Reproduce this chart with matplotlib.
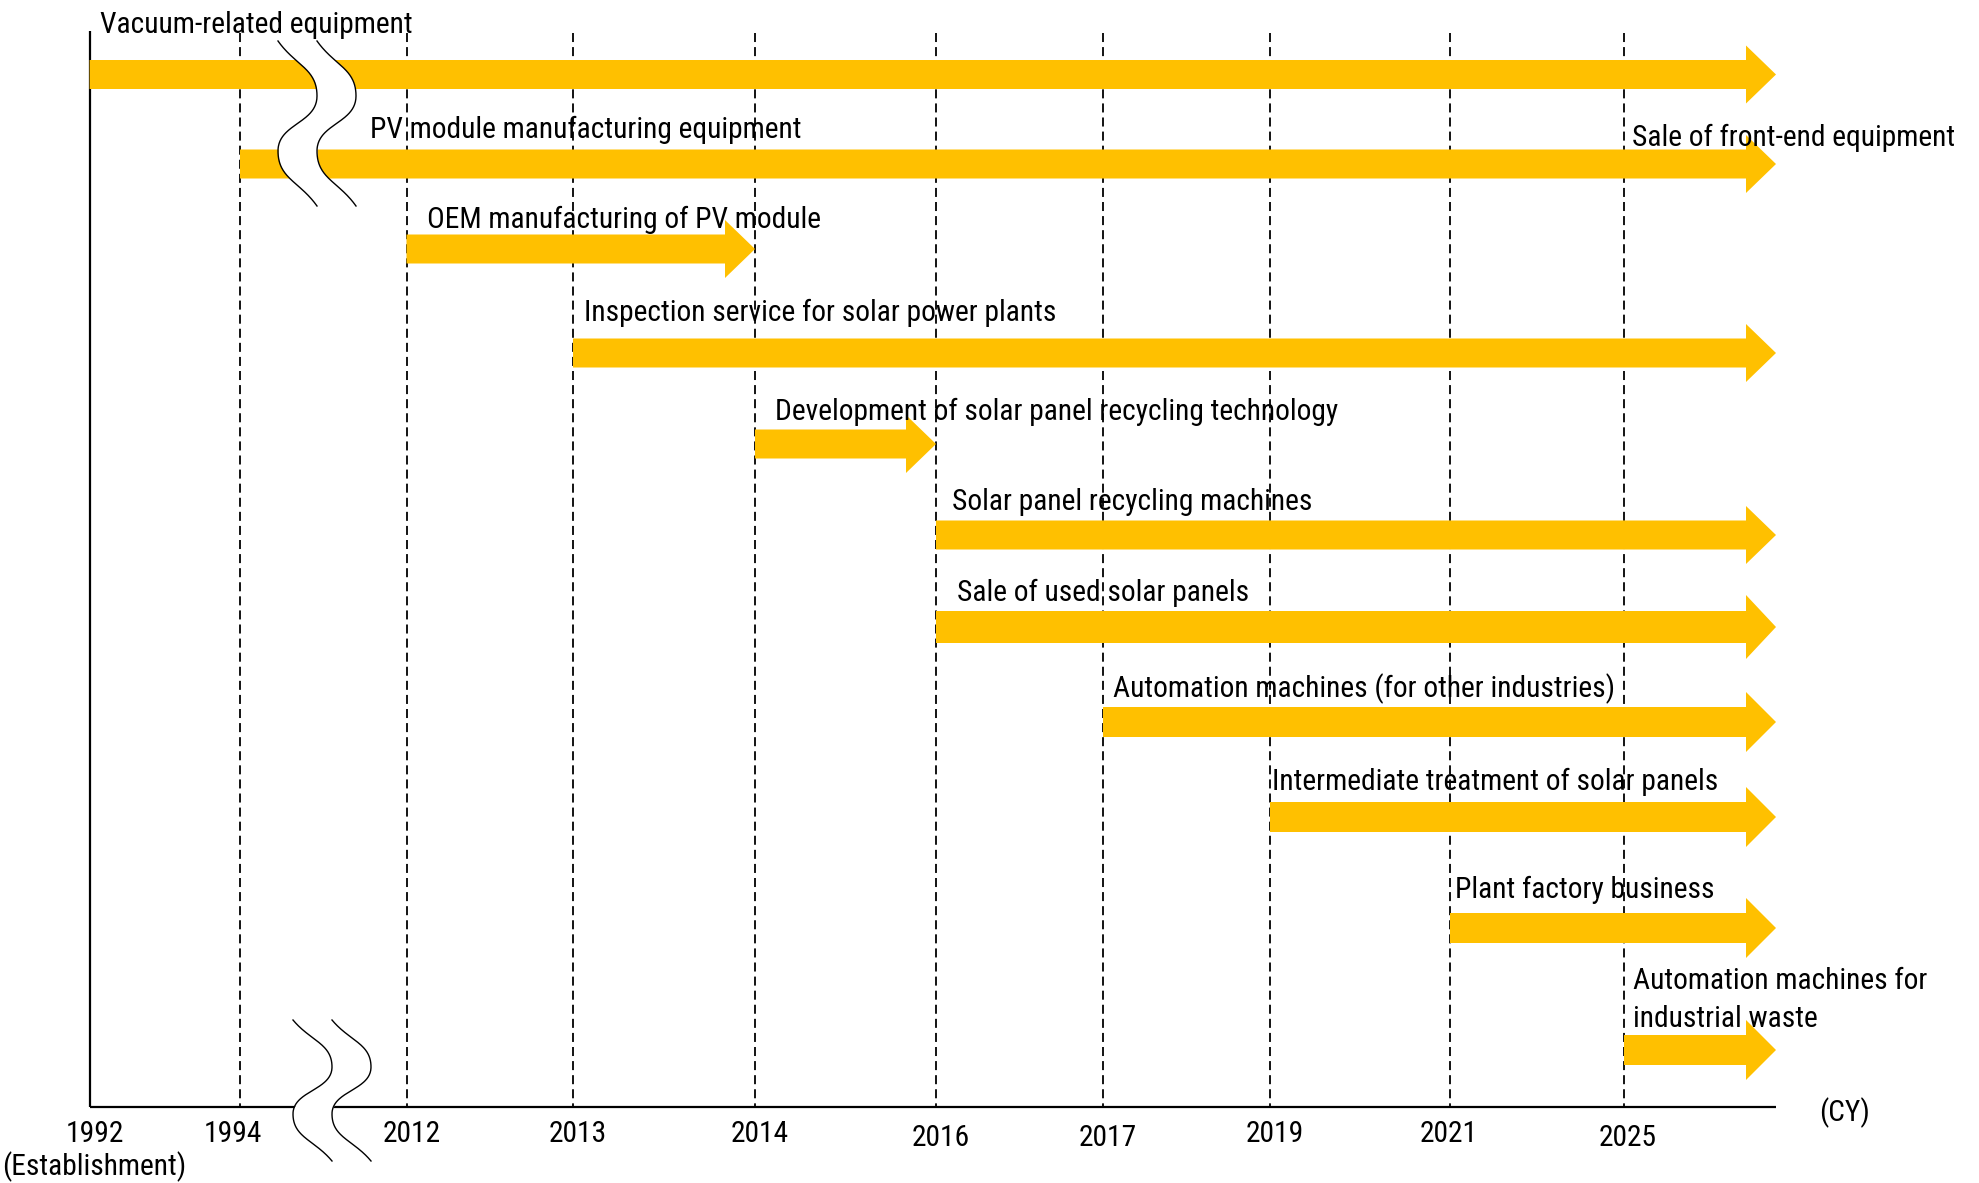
import numpy as np
import matplotlib
matplotlib.use("Agg")
import matplotlib.pyplot as plt
from matplotlib.patches import Polygon
from matplotlib import font_manager as fm

# ---------------- data ----------------
years = ['1992', '1994', '2012', '2013', '2014', '2016', '2017', '2019', '2021', '2025']
year_notes = {'1992': '(Establishment)'}
unit_label = '(CY)'

bar_labels = [
    'Vacuum-related equipment',
    'PV module manufacturing equipment',
    'OEM manufacturing of PV module',
    'Inspection service for solar power plants',
    'Development of solar panel recycling technology',
    'Solar panel recycling machines',
    'Sale of used solar panels',
    'Automation machines (for other industries)',
    'Intermediate treatment of solar panels',
    'Plant factory business',
    'Automation machines for\nindustrial waste',
]
bar_start = ['1992', '1994', '2012', '2013', '2014', '2016', '2016', '2017', '2019', '2021', '2025']
bar_end = [None, None, '2014', None, '2016', None, None, None, None, None, None]  # None = ongoing
side_note = 'Sale of front-end equipment'
side_note_row = 1
side_note_year = '2025'

# ---------------- layout (pixel space) ----------------
W, H = 1979, 1183
year_x = [89.6, 240, 406.5, 573, 755, 936, 1103, 1270, 1450, 1624]
x_arrow_end = 1776
axis_y = 1107
axis_top = 31
row_y = [74.5, 164, 249, 353, 444, 535, 627, 722, 817, 928, 1050]
row_half = [14.5, 14.5, 14.5, 14.5, 14.5, 14.5, 16, 15, 15, 15, 15]
head_len = 30
label_pos = [(100, 33), (370, 138), (427, 228), (584, 321), (775, 420), (952, 510),
             (957, 601), (1113, 697), (1272, 790), (1455, 898), (1633, 989)]
line_pitch = 38
side_note_pos = (1632, 146)
tick_base = [1142, 1142, 1142, 1142, 1142, 1146, 1146, 1142, 1142, 1146]
tick_dx = [5, -7, 5, 5, 5, 5, 5, 5, -1, 4]
ref_width_text = 'Development of solar panel recycling technology'
ref_width_px = 564

BAR = '#FFC000'


def has_font(name):
    try:
        fm.findfont(fm.FontProperties(family=name), fallback_to_default=False)
        return True
    except Exception:
        return False


cands = ['Liberation Sans Narrow', 'Arial Narrow', 'Roboto Condensed', 'Nimbus Sans Narrow',
         'Liberation Sans']
main = next((c for c in cands if has_font(c)), 'DejaVu Sans')
FONT = [main, 'Liberation Sans', 'DejaVu Sans']

fig = plt.figure(figsize=(W / 100, H / 100), dpi=100)
ax = fig.add_axes([0, 0, 1, 1])
ax.set_xlim(0, W)
ax.set_ylim(H, 0)
ax.axis('off')

# font size chosen so that text widths match the reference
renderer = fig.canvas.get_renderer()
probe = ax.text(0, 0, ref_width_text, fontsize=20, family=FONT)
wpx = probe.get_window_extent(renderer=renderer).width
probe.remove()
FS = 20 * ref_width_px / wpx
TFS = FS

pos = dict(zip(years, year_x))

# dashed year lines
for y in years[1:]:
    ax.plot([pos[y], pos[y]], [33, axis_y], color='black', lw=1.3,
            ls=(0, (5, 2.8)), zorder=1)

# axes
ax.plot([pos[years[0]]] * 2, [axis_top, axis_y], color='black', lw=1.6, zorder=2,
        solid_capstyle='butt')
ax.plot([pos[years[0]], x_arrow_end], [axis_y] * 2, color='black', lw=1.6, zorder=2,
        solid_capstyle='butt')

# arrows
for i, lab in enumerate(bar_labels):
    xs = pos[bar_start[i]]
    xt = pos[bar_end[i]] if bar_end[i] is not None else x_arrow_end
    yc = row_y[i]
    h = row_half[i]
    hh = 2 * h
    pts = [(xs, yc - h), (xt - head_len, yc - h), (xt - head_len, yc - hh), (xt, yc),
           (xt - head_len, yc + hh), (xt - head_len, yc + h), (xs, yc + h)]
    ax.add_patch(Polygon(pts, closed=True, facecolor=BAR, edgecolor='none', zorder=3))


# break marks
def bez(p0, c1, c2, p3, n=80):
    t = np.linspace(0, 1, n)[:, None]
    p0, c1, c2, p3 = map(np.array, (p0, c1, c2, p3))
    return ((1 - t) ** 3) * p0 + 3 * ((1 - t) ** 2) * t * c1 + 3 * (1 - t) * t ** 2 * c2 + t ** 3 * p3


def squiggle(x_left, amp, y_top, y_bot, gap):
    s = (y_bot - y_top) / 3.0
    P0 = (0, 0); P1 = (amp, s); P2 = (0, 2 * s); P3 = (amp, 3 * s)
    seg1 = bez(P0, (0.45 * amp, 0.45 * s), (amp, 0.5 * s), P1)
    seg2 = bez(P1, (amp, 1.5 * s), (0, 1.5 * s), P2)
    seg3 = bez(P2, (0, 2.5 * s), (amp - 0.45 * amp, 3 * s - 0.45 * s), P3)
    pts = np.vstack([seg1, seg2[1:], seg3[1:]])
    x1 = x_left + pts[:, 0]
    yy = y_top + pts[:, 1]
    x2 = x1 + gap
    ax.fill_betweenx(yy, x1, x2, color='white', lw=0, zorder=4)
    ax.plot(x1, yy, color='black', lw=1.0, zorder=5)
    ax.plot(x2, yy, color='black', lw=1.0, zorder=5)


squiggle(278, 39, 41, 206, 39)
squiggle(293, 39, 1020, 1161, 39)

# labels
for i, lab in enumerate(bar_labels):
    x, yb = label_pos[i]
    for j, line in enumerate(lab.split('\n')):
        ax.text(x, yb + j * line_pitch, line, fontsize=FS, family=FONT, ha='left',
                va='baseline', color='black', zorder=6)
ax.text(side_note_pos[0], side_note_pos[1], side_note, fontsize=FS, family=FONT,
        ha='left', va='baseline', color='black', zorder=6)

# tick labels
for i, y in enumerate(years):
    ax.text(pos[y] + tick_dx[i], tick_base[i], y, fontsize=TFS, family=FONT,
            ha='center', va='baseline', color='black', zorder=6)
    if y in year_notes:
        ax.text(pos[y] + tick_dx[i], 1175, year_notes[y], fontsize=TFS, family=FONT,
                ha='center', va='baseline', color='black', zorder=6)
ax.text(1845, 1121, unit_label, fontsize=TFS, family=FONT, ha='center',
        va='baseline', color='black', zorder=6)

fig.savefig('out.png', dpi=100)
